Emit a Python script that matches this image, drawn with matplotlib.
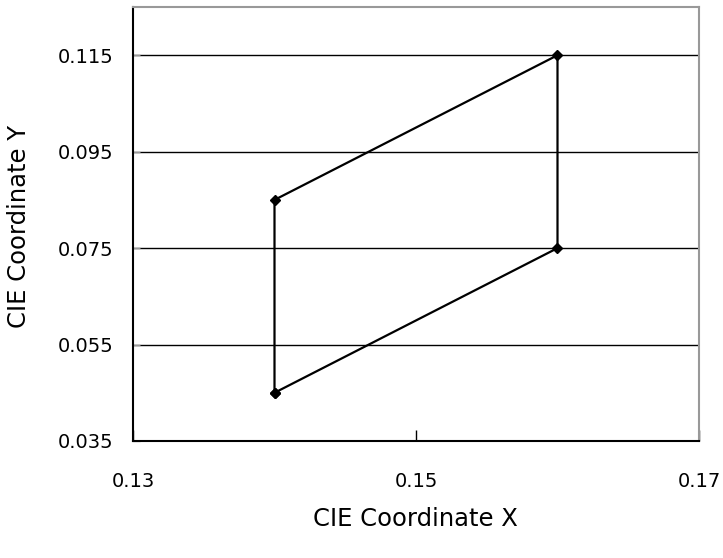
import matplotlib.pyplot as plt

# CIE colour coordinates of the region corners (closed polygon)
cie_x = [0.14, 0.14, 0.16, 0.16, 0.14]
cie_y = [0.045, 0.085, 0.115, 0.075, 0.045]

x_ticks = [0.13, 0.15, 0.17]
y_ticks = [0.035, 0.055, 0.075, 0.095, 0.115]

fig = plt.figure(figsize=(7.23, 5.58), dpi=100)
ax = fig.add_axes([133 / 723, 1 - 441 / 558, (699 - 133) / 723, (441 - 7) / 558])

# horizontal gridlines (excel style, no line at the bottom)
for yv in y_ticks[1:]:
    ax.axhline(yv, color='black', lw=1.0, zorder=1)

ax.plot(cie_x, cie_y, color='black', lw=1.6, marker='D', markersize=5, zorder=3)

ax.set_xlim(0.13, 0.17)
ax.set_ylim(0.035, 0.125)
ax.set_xticks(x_ticks)
ax.set_xticklabels(['0.13', '0.15', '0.17'])
ax.set_yticks(y_ticks)
ax.set_yticklabels(['0.035', '0.055', '0.075', '0.095', '0.115'])

ax.tick_params(axis='x', direction='in', length=8, width=1, color='black',
               pad=22, labelsize=14)
ax.tick_params(axis='y', direction='in', length=5, width=1, color='#999999',
               pad=14, labelsize=14)

ax.spines['left'].set_color('black')
ax.spines['bottom'].set_color('black')
ax.spines['left'].set_linewidth(1.5)
ax.spines['bottom'].set_linewidth(1.5)
ax.spines['top'].set_color('#999999')
ax.spines['right'].set_color('#999999')
ax.spines['top'].set_linewidth(1.5)
ax.spines['right'].set_linewidth(1.5)

fig.text(415 / 723, 1 - 519 / 558, 'CIE Coordinate X', ha='center', va='center', fontsize=17.5)
fig.text(19 / 723, 1 - 226 / 558, 'CIE Coordinate Y', ha='center', va='center',
         rotation=90, fontsize=17.5)

fig.savefig('out.png', dpi=100)
